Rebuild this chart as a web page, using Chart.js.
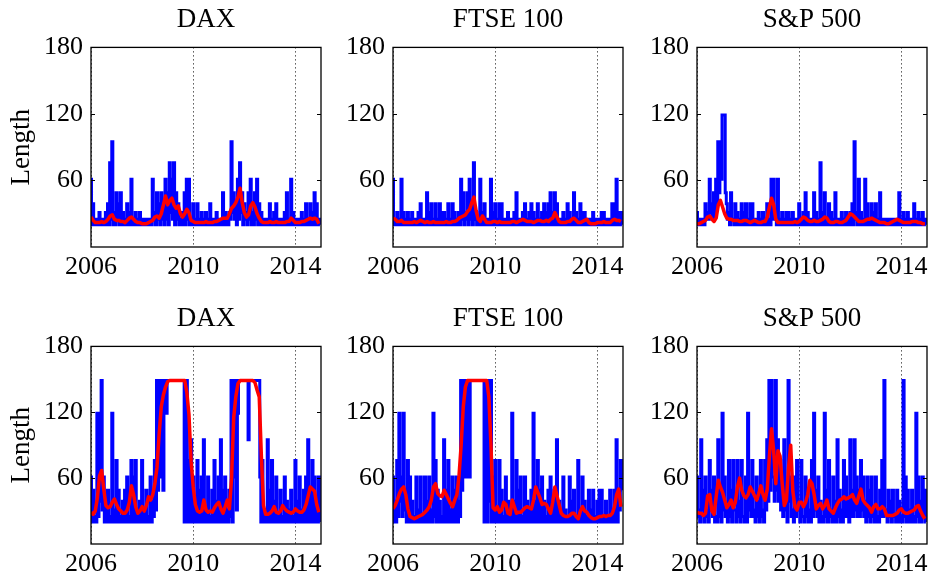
<!DOCTYPE html>
<html>
<head>
<meta charset="utf-8">
<title>Length - DAX, FTSE 100, S&amp;P 500</title>
<script src="https://cdn.jsdelivr.net/npm/chart.js@4"></script>
<style>
    body {
        margin: 0;
        width: 933px;
        height: 578px;
        position: relative;
        overflow: hidden;
        background: #fff;
    }
    canvas {
        position: absolute;
    }
</style>
</head>
<body>
<script>
// Labels and ticks
const titles = ['DAX', 'FTSE 100', 'S&P 500'];
const yLabel = 'Length';
const xTicks = [2006, 2010, 2014];
const yTicks = [60, 120, 180];
const startYear = 2006; // blue series: half-monthly, red series: monthly, from January 2006

// Top row: blue = raw length (half-monthly), red = smoothed (monthly)
const daxTopBlue = [
    61,20, 39,20, 25,20, 25,20, 31,20, 25,20, 25,20, 31,20, 39,20, 76,25,
    95,20, 31,20, 49,25, 39,20, 49,20, 31,20, 25,20, 39,20, 31,20, 61,20,
    25,20, 31,20, 25,20, 31,20, 25,20, 25,20, 25,20, 25,20, 25,20, 61,25,
    31,20, 49,25, 39,20, 49,25, 39,20, 61,25, 49,20, 76,31, 61,25, 76,20,
    49,25, 39,20, 25,20, 31,20, 49,20, 61,25, 61,20, 25,20, 39,20, 25,20,
    39,20, 25,20, 31,20, 25,20, 31,20, 25,20, 39,20, 25,20, 25,20, 31,20,
    25,20, 25,20, 49,20, 31,20, 25,20, 31,25, 95,31, 49,25, 39,20, 61,25,
    76,31, 49,20, 39,25, 31,20, 49,25, 61,20, 31,20, 49,25, 61,20, 39,20,
    31,20, 25,20, 25,20, 25,20, 39,20, 25,20, 31,20, 39,20, 25,20, 25,20,
    25,20, 31,20, 49,20, 25,20, 61,20, 31,20, 25,20, 25,20, 25,20, 31,20,
    25,20, 39,20, 25,20, 39,20, 31,20, 49,20, 39,20, 25,20];
const daxTopRed = [27,24,22,22,22,23,22,23,25,28, 29,25,24,24,23,23,22,24,26,27, 25,23,22,22,21,21,21,22,23,24, 27,28,26,30,38,46,38,42,44,38, 35,37,30,27,30,34,31,24,23,22, 22,22,22,22,23,22,22,22,23,23, 24,25,26,26,26,30,35,37,40,45, 53,40,31,27,29,37,40,36,30,26, 23,22,22,22,23,22,22,23,22,22, 22,22,23,23,26,24,22,22,22,23, 23,24,25,26,25,26,25,21];
const ftseTopBlue = [
    61,20, 25,20, 31,20, 25,20, 61,20, 31,20, 25,20, 31,20, 25,20, 31,20,
    25,20, 25,20, 31,20, 39,20, 25,20, 25,20, 49,20, 31,20, 39,20, 25,20,
    39,20, 25,20, 39,20, 31,20, 31,20, 25,20, 39,20, 25,20, 39,20, 31,20,
    25,20, 31,20, 61,25, 49,20, 31,25, 49,20, 61,25, 39,20, 76,25, 31,20,
    25,20, 61,20, 31,20, 39,20, 25,20, 25,20, 61,20, 31,20, 39,20, 25,20,
    39,20, 39,20, 25,20, 25,20, 31,20, 25,20, 25,20, 31,20, 49,20, 25,20,
    25,20, 31,20, 39,20, 25,20, 31,20, 39,20, 31,20, 25,20, 39,20, 25,20,
    31,20, 39,20, 31,20, 39,20, 49,20, 31,20, 49,20, 39,20, 25,20, 25,20,
    31,20, 25,20, 39,20, 31,20, 25,20, 49,20, 31,20, 25,20, 39,20, 31,20,
    31,20, 25,20, 25,20, 25,20, 31,20, 25,20, 25,20, 25,20, 31,20, 31,20,
    25,20, 25,20, 25,20, 39,20, 39,20, 61,20, 31,20, 31,20];
const ftseTopRed = [26,25,23,23,24,22,22,22,22,22, 23,22,23,24,23,22,23,22,22,23, 22,22,22,22,22,23,22,22,23,23, 24,26,27,28,29,32,34,40,45,33, 25,23,28,25,22,22,22,23,23,22, 23,22,22,22,22,22,23,23,22,23, 24,25,24,23,23,23,22,23,24,24, 23,23,24,23,25,26,31,27,23,22, 22,22,23,23,25,26,24,22,22,23, 24,25,22,21,21,21,22,22,22,23, 22,22,22,24,25,24,24,23];
const spTopBlue = [
    31,20, 25,20, 25,20, 25,20, 39,25, 31,25, 61,31, 39,25, 49,31, 61,39,
    95,49, 95,61, 119,119, 119,49, 39,25, 31,20, 49,25, 25,20, 39,20, 31,20,
    25,20, 39,20, 31,20, 39,20, 25,20, 39,20, 39,20, 25,20, 25,20, 31,20,
    25,20, 31,20, 25,20, 39,20, 25,20, 61,25, 61,31, 25,20, 61,20, 25,20,
    31,20, 25,20, 31,20, 31,20, 25,20, 31,20, 25,20, 25,20, 39,20, 25,20,
    31,20, 49,20, 31,20, 25,20, 25,20, 49,20, 31,20, 25,20, 76,20, 31,20,
    49,20, 25,20, 39,20, 31,20, 25,20, 49,20, 25,20, 25,20, 31,20, 25,20,
    31,20, 25,20, 31,20, 39,20, 95,25, 31,20, 61,20, 31,20, 25,20, 61,20,
    39,20, 25,20, 39,20, 31,20, 39,20, 25,20, 49,20, 25,20, 25,20, 25,20,
    25,20, 25,20, 25,20, 25,20, 25,20, 49,20, 25,20, 31,20, 25,20, 31,20,
    25,20, 25,20, 39,20, 25,20, 31,20, 25,20, 31,20, 25,20];
const spTopRed = [21,21,22,23,24,27,28,25,23,26, 38,42,36,30,26,25,25,24,24,24, 23,23,24,24,23,22,23,24,23,22, 22,23,23,27,36,44,38,25,22,22, 22,22,22,22,22,22,23,22,23,25, 27,26,24,23,23,24,23,23,24,25, 27,26,23,22,22,23,23,22,22,23, 24,27,30,29,27,25,23,23,23,24, 25,25,26,25,24,23,22,22,22,21, 21,22,23,24,25,24,23,22,22,22, 22,23,23,23,22,22,21,21];

// Bottom row
const daxBotBlue = [
    61,20, 49,20, 25,20, 119,25, 119,39, 149,31, 61,20, 39,20, 49,20, 25,20,
    119,20, 31,20, 76,20, 49,20, 25,20, 39,20, 49,20, 61,20, 25,20, 76,20,
    61,20, 76,20, 25,20, 39,20, 76,20, 31,20, 49,20, 25,20, 61,20, 39,25,
    76,31, 149,49, 61,149, 149,61, 49,149, 149,119, 149,149, 149,149, 149,149, 149,149,
    149,149, 149,149, 149,149, 149,149, 20,149, 149,20, 76,20, 95,20, 61,20, 39,20,
    76,20, 49,20, 61,20, 95,20, 31,20, 61,20, 25,20, 49,20, 76,20, 39,20,
    61,20, 95,20, 49,20, 61,20, 31,20, 49,25, 149,20, 61,149, 149,31, 119,149,
    149,149, 149,149, 149,149, 149,149, 95,149, 149,149, 149,149, 149,149, 149,149, 149,61,
    20,76, 31,20, 31,20, 95,20, 49,20, 76,20, 39,20, 61,20, 25,20, 49,20,
    25,20, 61,20, 39,20, 31,20, 49,20, 25,20, 76,20, 39,20, 61,20, 31,20,
    49,20, 61,20, 95,20, 49,20, 76,20, 61,20, 31,20, 61,20];
const daxBotRed = [29,27,30,42,62,67,50,35,33,34, 38,41,36,32,30,28,28,31,38,53, 45,34,28,30,34,30,35,43,40,45, 55,70,100,125,136,143,148,149,149,149, 149,149,149,149,149,138,118,75,52,36, 30,29,30,40,31,29,30,29,33,36, 38,32,28,34,40,32,60,115,134,146, 149,149,149,149,149,149,149,147,140,134, 80,35,27,27,28,30,34,29,28,30, 35,32,30,29,28,29,32,30,29,29, 31,36,44,52,50,48,36,29];
const ftseBotBlue = [
    61,20, 39,20, 76,25, 119,39, 61,25, 119,31, 49,20, 76,20, 61,20, 39,20,
    25,20, 61,20, 31,20, 61,20, 25,20, 61,20, 39,20, 61,20, 31,20, 119,25,
    76,20, 49,20, 39,20, 25,20, 95,20, 49,20, 76,20, 31,20, 61,20, 49,20,
    61,20, 39,25, 149,49, 61,149, 149,61, 149,149, 61,149, 149,149, 149,149, 149,149,
    149,149, 149,149, 149,149, 20,149, 149,20, 39,149, 149,20, 61,20, 76,20, 31,20,
    76,20, 49,20, 25,20, 61,20, 39,20, 25,20, 119,20, 39,20, 76,20, 49,20,
    61,20, 25,20, 61,20, 39,20, 31,20, 49,20, 119,20, 39,20, 76,20, 49,20,
    61,20, 39,20, 25,20, 49,20, 61,20, 31,20, 49,20, 95,20, 39,20, 25,20,
    61,20, 31,20, 25,20, 61,20, 39,20, 49,20, 25,20, 76,20, 31,20, 61,20,
    39,20, 25,20, 49,20, 31,20, 49,20, 25,20, 39,20, 49,20, 49,20, 25,20,
    39,20, 25,20, 49,20, 31,20, 49,20, 95,20, 49,31, 76,49];
const ftseBotRed = [32,35,40,46,50,52,45,32,25,24, 23,24,25,26,27,29,31,34,40,52, 55,46,44,43,49,45,41,37,34,40, 45,62,90,125,143,149,149,149,149,149, 149,149,149,149,149,134,90,33,31,34, 29,31,38,36,28,27,40,34,28,29, 29,31,33,34,33,32,40,52,47,42, 36,37,36,32,28,38,52,44,36,28, 26,25,25,26,28,28,25,23,30,34, 30,29,26,24,23,23,24,25,25,26, 25,26,26,28,34,45,50,34];
const spBotBlue = [
    61,25, 31,20, 95,31, 49,20, 61,25, 31,20, 76,31, 49,25, 61,20, 25,20,
    95,25, 49,20, 119,31, 61,25, 31,20, 76,25, 49,20, 76,31, 31,20, 76,25,
    39,20, 76,25, 25,20, 61,20, 119,31, 49,25, 76,31, 25,20, 61,25, 39,20,
    76,25, 31,20, 76,31, 95,39, 149,49, 149,61, 61,39, 149,49, 95,39, 76,31,
    61,25, 95,31, 49,20, 149,39, 61,25, 31,20, 61,25, 76,31, 39,20, 76,25,
    25,20, 61,25, 49,20, 31,20, 76,25, 119,31, 49,25, 61,20, 39,20, 25,20,
    119,25, 49,20, 76,25, 31,20, 61,20, 39,20, 95,25, 49,20, 31,20, 76,25,
    61,25, 39,20, 95,25, 49,25, 95,31, 61,25, 49,25, 76,31, 61,25, 39,20,
    61,25, 49,20, 61,25, 31,20, 61,20, 25,20, 49,25, 76,25, 149,31, 31,20,
    49,25, 39,20, 49,25, 25,20, 49,20, 39,20, 25,20, 149,25, 61,20, 49,20,
    31,20, 49,20, 25,20, 119,25, 61,20, 39,20, 61,25, 49,20];
const spBotRed = [29,28,28,26,28,44,45,30,27,43, 58,52,47,40,33,36,40,33,38,52, 60,49,44,42,45,52,48,44,40,46, 53,45,40,50,80,105,85,55,85,80, 55,35,40,70,90,48,34,31,38,38, 34,38,45,58,55,45,32,35,37,32, 35,40,32,30,28,33,37,40,41,43, 41,42,43,45,40,37,44,50,40,37, 35,33,29,34,36,32,32,34,32,26, 26,26,26,27,28,31,32,29,28,28, 29,30,31,34,35,30,26,23];

// Page layout (pixels)
// an empty right axis as wide as the left one keeps the title centred over the plot
const LAYOUT = {
    plotLeft: [91, 393, 697],
    plotTop: [47, 346],
    plotWidth: 230,
    plotHeight: [200, 198],
    axisWidth: [91, 60, 60],
    titleHeight: 47,
    xAxisHeight: 40
};

const panels = [
    { row: 0, col: 0, blue: daxTopBlue, red: daxTopRed },
    { row: 0, col: 1, blue: ftseTopBlue, red: ftseTopRed },
    { row: 0, col: 2, blue: spTopBlue, red: spTopRed },
    { row: 1, col: 0, blue: daxBotBlue, red: daxBotRed },
    { row: 1, col: 1, blue: ftseBotBlue, red: ftseBotRed },
    { row: 1, col: 2, blue: spBotBlue, red: spBotRed }
];

Chart.defaults.font.family = '"Liberation Serif", "Times New Roman", serif';
Chart.defaults.font.size = 26;
Chart.defaults.color = '#000';

// sample index -> decimal year
function toPoints(values, perYear) {
    return values.map((v, i) => ({ x: startYear + i / perYear, y: v }));
}

// box around the axes plus inward y ticks on both sides (matlab style)
const framePlugin = {
    id: 'frame',
    afterDraw(chart) {
        const { ctx, chartArea: a } = chart;
        const y = chart.scales.y;
        ctx.save();
        ctx.strokeStyle = '#000';
        ctx.lineWidth = 1.3;
        ctx.strokeRect(a.left, a.top, a.right - a.left, a.bottom - a.top);
        ctx.lineWidth = 1;
        yTicks.forEach(v => {
            const py = Math.round(y.getPixelForValue(v)) + 0.5;
            ctx.beginPath();
            ctx.moveTo(a.left, py);
            ctx.lineTo(a.left + 4, py);
            ctx.moveTo(a.right, py);
            ctx.lineTo(a.right - 4, py);
            ctx.stroke();
        });
        ctx.restore();
    }
};

function makePanel(p) {
    const axisW = LAYOUT.axisWidth[p.col];
    const w = axisW + LAYOUT.plotWidth + axisW;
    const h = LAYOUT.titleHeight + LAYOUT.plotHeight[p.row] + LAYOUT.xAxisHeight;

    const canvas = document.createElement('canvas');
    canvas.width = w;
    canvas.height = h;
    canvas.style.width = w + 'px';
    canvas.style.height = h + 'px';
    canvas.style.left = (LAYOUT.plotLeft[p.col] - axisW) + 'px';
    canvas.style.top = (LAYOUT.plotTop[p.row] - LAYOUT.titleHeight) + 'px';
    document.body.appendChild(canvas);

    new Chart(canvas, {
        type: 'line',
        data: {
            datasets: [
                {
                    label: 'smoothed',
                    data: toPoints(p.red, 12),
                    borderColor: '#ff0000',
                    borderWidth: 3.5,
                    borderJoinStyle: 'round',
                    pointRadius: 0,
                    tension: 0
                },
                {
                    label: 'length',
                    data: toPoints(p.blue, 24),
                    borderColor: '#0000ff',
                    borderWidth: 3,
                    borderJoinStyle: 'miter',
                    pointRadius: 0,
                    stepped: 'middle'
                }
            ]
        },
        options: {
            responsive: false,
            animation: false,
            devicePixelRatio: 1,
            layout: { padding: 0 },
            plugins: {
                legend: { display: false },
                tooltip: { enabled: false },
                title: {
                    display: true,
                    text: titles[p.col],
                    font: { size: 27, weight: 'normal' },
                    color: '#000',
                    padding: { top: 4, bottom: 11 }
                }
            },
            scales: {
                x: {
                    type: 'linear',
                    min: 2006,
                    max: 2015,
                    afterBuildTicks: s => { s.ticks = xTicks.map(v => ({ value: v })); },
                    afterFit: s => { s.height = LAYOUT.xAxisHeight; },
                    ticks: { padding: 5, maxRotation: 0, callback: v => String(v) },
                    grid: { color: '#000', lineWidth: 1, drawTicks: false },
                    border: { display: false, dash: [1, 3] }
                },
                y: {
                    min: 0,
                    max: 180,
                    afterBuildTicks: s => { s.ticks = yTicks.map(v => ({ value: v })); },
                    afterFit: s => { s.width = axisW; },
                    ticks: { padding: 8 },
                    grid: { display: false, drawTicks: false },
                    border: { display: false },
                    title: {
                        display: p.col === 0,
                        text: yLabel,
                        font: { size: 27 },
                        padding: { top: 6, bottom: 0 }
                    }
                },
                yRight: {
                    position: 'right',
                    min: 0,
                    max: 180,
                    afterFit: s => { s.width = axisW; },
                    ticks: { display: false },
                    grid: { display: false, drawTicks: false },
                    border: { display: false }
                }
            }
        },
        plugins: [framePlugin]
    });
}

panels.forEach(makePanel);
</script>
</body>
</html>
